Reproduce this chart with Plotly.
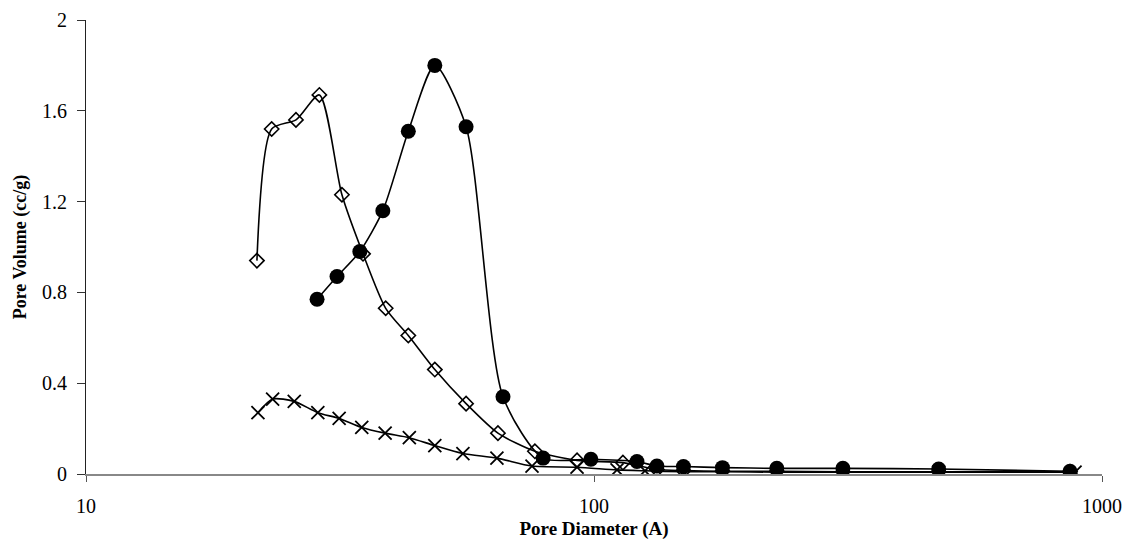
import plotly.graph_objects as go

# Pore size distributions (pore diameter in Angstrom vs pore volume in cc/g)
diamond_d = [21.7, 23.2, 25.9, 28.8, 31.9, 35.1, 38.9, 43.1, 48.6, 56.0, 64.7, 76.5,
             92.6, 114, 133, 150, 179, 229, 309, 477, 865]
diamond_v = [0.94, 1.52, 1.56, 1.67, 1.23, 0.97, 0.73, 0.61, 0.46, 0.31, 0.18, 0.10,
             0.06, 0.05, 0.02, 0.015, 0.012, 0.012, 0.01, 0.01, 0.01]

circle_d = [28.5, 31.2, 34.6, 38.4, 43.1, 48.6, 56.0, 66.2, 79.4, 98.6, 121.5, 133,
            150, 179, 229, 309, 477, 865]
circle_v = [0.77, 0.87, 0.98, 1.16, 1.51, 1.80, 1.53, 0.34, 0.07, 0.065, 0.055, 0.035,
            0.033, 0.028, 0.025, 0.025, 0.022, 0.012]

cross_d = [21.8, 23.3, 25.7, 28.6, 31.5, 34.9, 38.8, 43.3, 48.6, 55.2, 64.4, 75.5,
           92.6, 111, 126, 150, 179, 229, 309, 477, 885]
cross_v = [0.27, 0.33, 0.32, 0.27, 0.245, 0.205, 0.18, 0.16, 0.125, 0.09, 0.07, 0.035,
           0.03, 0.018, 0.014, 0.01, 0.01, 0.008, 0.008, 0.008, 0.008]

y_ticks = [0, 0.4, 0.8, 1.2, 1.6, 2]
y_tick_text = ["0", "0.4", "0.8", "1.2", "1.6", "2"]
x_ticks = [10, 100, 1000]
x_tick_text = ["10", "100", "1000"]

FONT = "Liberation Serif"
line_style = dict(color="black", width=1.6, shape="spline", smoothing=0.7)

fig = go.Figure()
fig.add_trace(go.Scatter(
    x=cross_d, y=cross_v, mode="lines+markers", line=line_style,
    marker=dict(symbol="x-thin-open", size=13, color="black",
                line=dict(color="black", width=1.8)),
))
fig.add_trace(go.Scatter(
    x=diamond_d, y=diamond_v, mode="lines+markers", line=line_style,
    marker=dict(symbol="diamond-open", size=11, color="black",
                line=dict(color="black", width=1.6)),
))
fig.add_trace(go.Scatter(
    x=circle_d, y=circle_v, mode="lines+markers", line=line_style,
    marker=dict(symbol="circle", size=15, color="black",
                line=dict(color="black", width=0)),
))

fig.update_layout(
    width=1128, height=545,
    margin=dict(l=86, r=26, t=20, b=71),
    paper_bgcolor="white", plot_bgcolor="white",
    showlegend=False,
    font=dict(family=FONT, size=20, color="black"),
    xaxis=dict(
        type="log", range=[1, 3],
        tickvals=x_ticks, ticktext=x_tick_text,
        ticks="outside", ticklen=6, tickwidth=1, tickcolor="#555",
        showline=True, linecolor="#888", linewidth=2,
        showgrid=False, zeroline=False, automargin=False,
        tickfont=dict(family=FONT, size=20),
        ticklabelstandoff=7,
        title=dict(text="<b>Pore Diameter (A)</b>", standoff=6,
                   font=dict(family=FONT, size=19)),
    ),
    yaxis=dict(
        range=[0, 2],
        tickvals=y_ticks, ticktext=y_tick_text,
        ticks="outside", ticklen=8, tickwidth=1, tickcolor="#333",
        showline=True, linecolor="#222", linewidth=1,
        showgrid=False, zeroline=False, automargin=False,
        tickfont=dict(family=FONT, size=20),
        ticklabelstandoff=6,
        title=dict(text="<b>Pore Volume (cc/g)</b>", standoff=10,
                   font=dict(family=FONT, size=18)),
    ),
)

fig.write_html("out.html")
